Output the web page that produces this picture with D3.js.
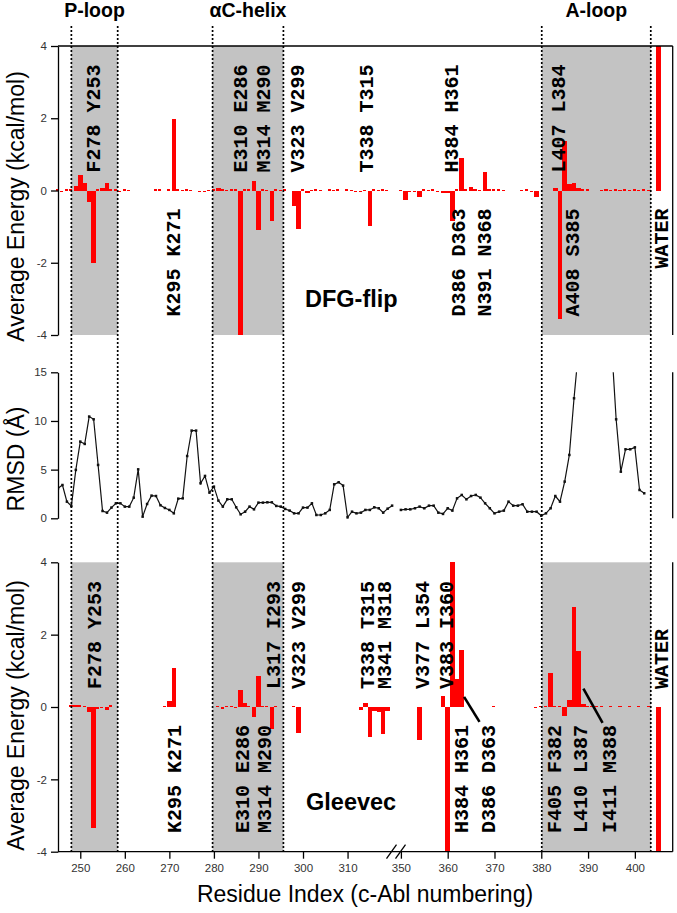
<!DOCTYPE html>
<html><head><meta charset="utf-8">
<script src="https://cdn.jsdelivr.net/npm/d3@7"></script>
<style>body{margin:0;background:#fff}svg{display:block}</style>
</head><body>
<svg id="c" width="677" height="913"></svg>
<script>
// ---------------- DATA ----------------
// Average energy per residue, DFG-flip panel: [residue, kcal/mol]
const dfgFlip = [
 [245,0.03],[246,-0.03],[247,0.03],[248,0.05],[249,0.12],[250,0.43],[251,0.21],[252,-0.31],[253,-2.0],
 [254,0.05],[255,0.07],[256,0.22],[257,0.03],[258,0.03],[259,-0.02],[260,0.03],[261,0.02],
 [267,0.03],[268,0.03],[270,0.03],[271,1.97],[272,0.03],[273,0.02],[274,0.03],[275,0.02],
 [277,-0.04],[278,-0.04],[279,0.02],[280,0.03],[281,0.07],[282,0.03],[283,0.02],[284,0.04],[285,0.03],
 [286,-4.0],[287,0.04],[288,0.03],[289,0.25],[290,-1.1],[291,0.03],[292,0.02],[293,-0.85],[294,0.03],
 [295,0.02],[296,0.03],[298,-0.43],[299,-1.06],[300,0.03],[301,-0.07],[302,0.02],[303,0.03],[304,0.02],
 [306,0.03],[307,0.02],[308,0.03],[310,0.03],[311,0.02],[312,-0.03],[313,-0.03],[314,0.02],[315,-0.99],
 [316,0.03],[317,0.02],[318,0.03],[319,0.02],
 [350,0.02],[351,-0.27],[352,-0.04],[353,-0.05],[354,-0.18],[355,0.03],[356,0.02],[357,0.03],[358,-0.03],
 [359,-0.06],[360,-0.08],[361,-0.85],[362,0.03],[363,0.91],[364,0.03],[365,0.1],[366,0.03],[367,0.02],
 [368,0.52],[369,0.03],[370,0.05],[371,0.03],[372,0.02],
 [376,0.02],[377,0.03],[378,-0.04],[379,-0.17],[383,0.08],[384,-3.56],[385,1.37],[386,0.17],[387,0.21],
 [388,0.06],[389,0.04],[390,0.03],[393,0.02],[394,0.03],[395,0.02],[396,0.03],[397,0.02],[398,0.03],
 [399,0.02],[400,0.03],[401,0.02],[402,0.03],[403,0.02],[405,4.0]
];
// Average energy per residue, Gleevec panel
const gleevec = [
 [248,0.06],[249,0.06],[250,0.05],[251,0.04],[252,-0.13],[253,-3.34],[254,-0.05],[255,-0.04],[256,-0.08],[257,0.05],
 [269,0.02],[270,0.16],[271,1.08],
 [281,0.03],[282,-0.05],[283,0.03],[284,0.03],[285,-0.04],[286,0.48],[287,0.12],[288,0.03],[289,-0.29],
 [290,0.85],[291,0.03],[292,0.03],[293,-0.6],[294,0.03],
 [298,0.04],[299,-0.72],
 [313,-0.08],[314,0.1],[315,-0.83],[316,-0.1],[317,-0.15],[318,-0.75],[319,-0.1],
 [354,-0.9],
 [359,0.31],[360,-4.0],[361,4.0],[362,0.78],[363,1.57],
 [370,0.03],
 [379,-0.04],[380,0.03],[381,0.04],[382,0.95],[383,0.04],[384,0.03],[385,-0.26],[386,0.2],[387,2.76],
 [388,1.56],[389,0.08],[390,0.04],[391,0.03],[392,0.03],[393,0.04],[395,0.03],[397,0.03],[399,0.03],
 [401,0.03],[403,0.03],
 [405,-4.0]
];
// RMSD (Å): residues 245..320 and 350..402
const rmsdLeftStart = 245;
const rmsdLeft = [3.08,3.42,1.71,1.27,4.97,7.88,7.64,10.45,10.17,5.48,
 0.75,0.58,1.10,1.54,1.54,1.20,1.20,2.12,5.03,0.17,
 1.47,2.33,2.29,1.34,1.06,0.86,0.51,2.02,2.05,6.40,
 9.01,9.01,3.60,4.35,2.64,3.25,1.82,1.20,1.95,1.95,
 1.13,0.41,0.68,1.20,0.92,1.61,1.61,1.64,1.64,1.27,
 1.20,0.96,0.79,0.51,0.51,1.10,1.10,1.54,0.34,0.34,
 0.51,0.86,3.49,3.70,3.36,0.10,0.68,0.51,0.58,0.86,
 0.86,1.13,1.03,0.58,0.99,1.30];
const rmsdRightStart = 350;
const rmsdRight = [0.86,0.92,0.92,1.03,1.20,1.03,1.30,1.30,0.58,0.45,
 1.03,0.79,2.05,2.40,1.95,2.29,2.40,2.12,1.54,1.03,
 0.51,0.68,0.79,1.71,1.30,1.30,1.44,0.68,0.68,0.68,0.27,
 0.51,1.03,2.29,1.71,3.77,6.51,12.33,17.5,20,22,23,22,21,20,18,
 10.17,4.79,7.09,7.09,7.29,2.91,2.57];
// Highlighted regions [name, start residue, end residue]
const regions = [["P-loop",248.0,258.4],["\u03b1C-helix",279.7,295.6],["A-loop",380.1,403.4]];
const leftTicks = [250,260,270,280,290,300,310];
const rightTicks = [350,360,370,380,390,400];
const energyTicks = [-4,-2,0,2,4];
const rmsdTicks = [0,5,10,15];
// Residue labels [text, residue position, side]
const dfgLabels = [
 ["F278 Y253",253.0,"up"],["K295 K271",270.9,"down"],["E310 E286",285.9,"up"],["M314 M290",291.1,"up"],
 ["V323 V299",298.8,"up"],["T338 T315",314.3,"up"],["H384 H361",360.85,"up"],["L407 L384",383.8,"up"],
 ["D386 D363",362.4,"down"],["N391 N368",367.8,"down"],["A408 S385",386.7,"down"],["WATER",405.7,"down"]
];
const gleevecLabels = [
 ["F278 Y253",253.2,"up"],["K295 K271",271.1,"down"],["E310 E286",286.5,"down"],["M314 M290",291.3,"down"],
 ["L317 I293",293.3,"up"],["V323 V299",299.05,"up"],["T338 T315",314.4,"up"],["M341 M318",318.4,"up"],
 ["V377 L354",354.55,"up"],["V383 I360",359.85,"up"],["H384 H361",363.0,"down"],["D386 D363",368.7,"down"],
 ["F405 F382",382.8,"down"],["L410 L387",388.3,"down"],["I411 M388",394.7,"down"],["WATER",405.7,"up"]
];
// Callout leader lines [r1, v1, r2, v2] in Gleevec panel
const gleevecCallouts = [[363.5,0.28,366.8,-0.41],[389.0,0.51,393.1,-0.44]];

// ---------------- LAYOUT ----------------
const svg = d3.select("#c");
const SANS = "'Liberation Sans', Arial, sans-serif";
const MONO = "'Liberation Mono', 'Courier New', monospace";
const xL = d3.scaleLinear().domain([245,320]).range([58,392.1]);
const xR = d3.scaleLinear().domain([349.5,408]).range([398.56,672.3]);
const x = r => r < 335 ? xL(r) : xR(r);
const bw = r => r < 335 ? (xL(1)-xL(0)) : (xR(1)-xR(0));
const plotL = 58, plotR = 672.7;
const yTop = d3.scaleLinear().domain([-4,4]).range([335,46]);
const yMid = d3.scaleLinear().domain([0,15]).range([518.3,372.3]);
const yBot = d3.scaleLinear().domain([-4,4]).range([851.7,562.3]);

// gray regions
regions.forEach(([n,a,b]) => {
  [yTop,yBot].forEach(ys => {
    svg.append("rect").attr("x",x(a)).attr("width",x(b)-x(a))
      .attr("y",ys(4)).attr("height",ys(-4)-ys(4)).attr("fill","#c3c3c3");
  });
  svg.append("text").attr("x",(x(a)+x(b))/2).attr("y",17).attr("text-anchor","middle")
    .attr("font-family",SANS).attr("font-weight","bold").attr("font-size",19.5).text(n);
});

function drawBars(data, ys) {
  const tiny = d => Math.abs(d[1]) < 0.06;
  svg.append("g").attr("shape-rendering","crispEdges").selectAll("rect")
    .data(data.filter(d => d[1] !== 0)).join("rect")
    .attr("x", d => x(d[0]) - bw(d[0])/2).attr("width", d => tiny(d) ? bw(d[0])*0.68 : bw(d[0]))
    .attr("y", d => Math.min(ys(d[1]), ys(0)))
    .attr("height", d => Math.max(1, Math.abs(ys(d[1]) - ys(0))))
    .attr("fill","#ff0000");
}
drawBars(dfgFlip, yTop);
drawBars(gleevec, yBot);

// RMSD line
svg.append("defs").append("clipPath").attr("id","clipM").append("rect")
  .attr("x",plotL).attr("y",yMid(15)).attr("width",plotR-plotL).attr("height",170);
const rm = svg.append("g").attr("clip-path","url(#clipM)");
const segs = [rmsdLeft.map((v,i)=>[rmsdLeftStart+i,v]), rmsdRight.map((v,i)=>[rmsdRightStart+i,v])];
const line = d3.line().x(d=>x(d[0])).y(d=>yMid(d[1]));
segs.forEach(s => {
  rm.append("path").attr("d",line(s)).attr("fill","none").attr("stroke","#111").attr("stroke-width",1.2);
  rm.selectAll(null).data(s).join("rect")
    .attr("x",d=>x(d[0])-1.25).attr("y",d=>yMid(d[1])-1.25).attr("width",2.5).attr("height",2.5).attr("fill","#111");
});

// dotted region boundaries
regions.forEach(([n,a,b]) => {
  [a,b].forEach(r => {
    svg.append("line").attr("x1",x(r)).attr("x2",x(r)).attr("y1",26).attr("y2",853)
      .attr("stroke","#000").attr("stroke-width",1.7).attr("stroke-dasharray","2,2");
  });
});

// axes
function leftAxis(ys, ticks) {
  const g = svg.append("g").attr("transform",`translate(${plotL},0)`)
    .call(d3.axisLeft(ys).tickValues(ticks).tickSize(7).tickSizeOuter(0).tickPadding(4).tickFormat(d=>String(d)));
  g.selectAll("text").attr("font-family",SANS).attr("font-size",11.5).attr("fill","#333");
  g.selectAll("path,line").attr("stroke","#000").attr("stroke-width",1.3);
}
leftAxis(yTop, energyTicks);
leftAxis(yMid, rmsdTicks);
leftAxis(yBot, energyTicks);
const frame = [[plotL,yTop(4),plotR,yTop(4)],[plotR,yTop(4),plotR,yTop(-4)],
  [plotR,yMid(15),plotR,yMid(0)],[plotR,yBot(4),plotR,yBot(-4)],[plotL,yBot(-4),plotR,yBot(-4)]];
frame.forEach(f => svg.append("line").attr("x1",f[0]).attr("y1",f[1]).attr("x2",f[2]).attr("y2",f[3])
  .attr("stroke","#000").attr("stroke-width",1.3));
[[xL,leftTicks],[xR,rightTicks]].forEach(([sc,t]) => {
  const g = svg.append("g").attr("transform",`translate(0,${yBot(-4)})`)
    .call(d3.axisBottom(sc).tickValues(t).tickSize(7).tickSizeOuter(0).tickPadding(5));
  g.select(".domain").remove();
  g.selectAll("text").attr("font-family",SANS).attr("font-size",11.5).attr("fill","#333");
  g.selectAll("line").attr("stroke","#000").attr("stroke-width",1.3);
});
// axis break marks
[391.5,400.5].forEach(cx => svg.append("line").attr("x1",cx-5).attr("y1",yBot(-4)+7).attr("x2",cx+5).attr("y2",yBot(-4)-7)
  .attr("stroke","#000").attr("stroke-width",1.3));

// residue labels
function drawLabels(labels, ys) {
  labels.forEach(([t,r,side]) => {
    const yy = side === "up" ? ys(0.5) : ys(-0.5);
    svg.append("text").attr("transform",`translate(${x(r)},${yy}) rotate(-90)`)
      .attr("dy","0.32em").attr("text-anchor", side === "up" ? "start" : "end")
      .attr("font-family",MONO).attr("font-weight","bold").attr("font-size",20).attr("fill","#000").text(t);
  });
}
drawLabels(dfgLabels, yTop);
drawLabels(gleevecLabels, yBot);
gleevecCallouts.forEach(c => svg.append("line").attr("x1",x(c[0])).attr("y1",yBot(c[1])).attr("x2",x(c[2])).attr("y2",yBot(c[3]))
  .attr("stroke","#000").attr("stroke-width",2.6));

// panel names
svg.append("text").attr("x",305).attr("y",307).attr("font-family",SANS).attr("font-weight","bold").attr("font-size",23.5).text("DFG-flip");
svg.append("text").attr("x",306).attr("y",810).attr("font-family",SANS).attr("font-weight","bold").attr("font-size",23.5).text("Gleevec");

// axis titles
function yTitle(t, cy) {
  svg.append("text").attr("transform",`translate(16,${cy}) rotate(-90)`).attr("dy","0.345em")
    .attr("text-anchor","middle").attr("font-family",SANS).attr("font-size",23).text(t);
}
yTitle("Average Energy (kcal/mol)", 206.5);
yTitle("RMSD (\u00c5)", 459);
yTitle("Average Energy (kcal/mol)", 715.5);
svg.append("text").attr("x",365).attr("y",902).attr("text-anchor","middle").attr("font-family",SANS).attr("font-size",23)
  .text("Residue Index (c-Abl numbering)");
</script>
</body></html>
